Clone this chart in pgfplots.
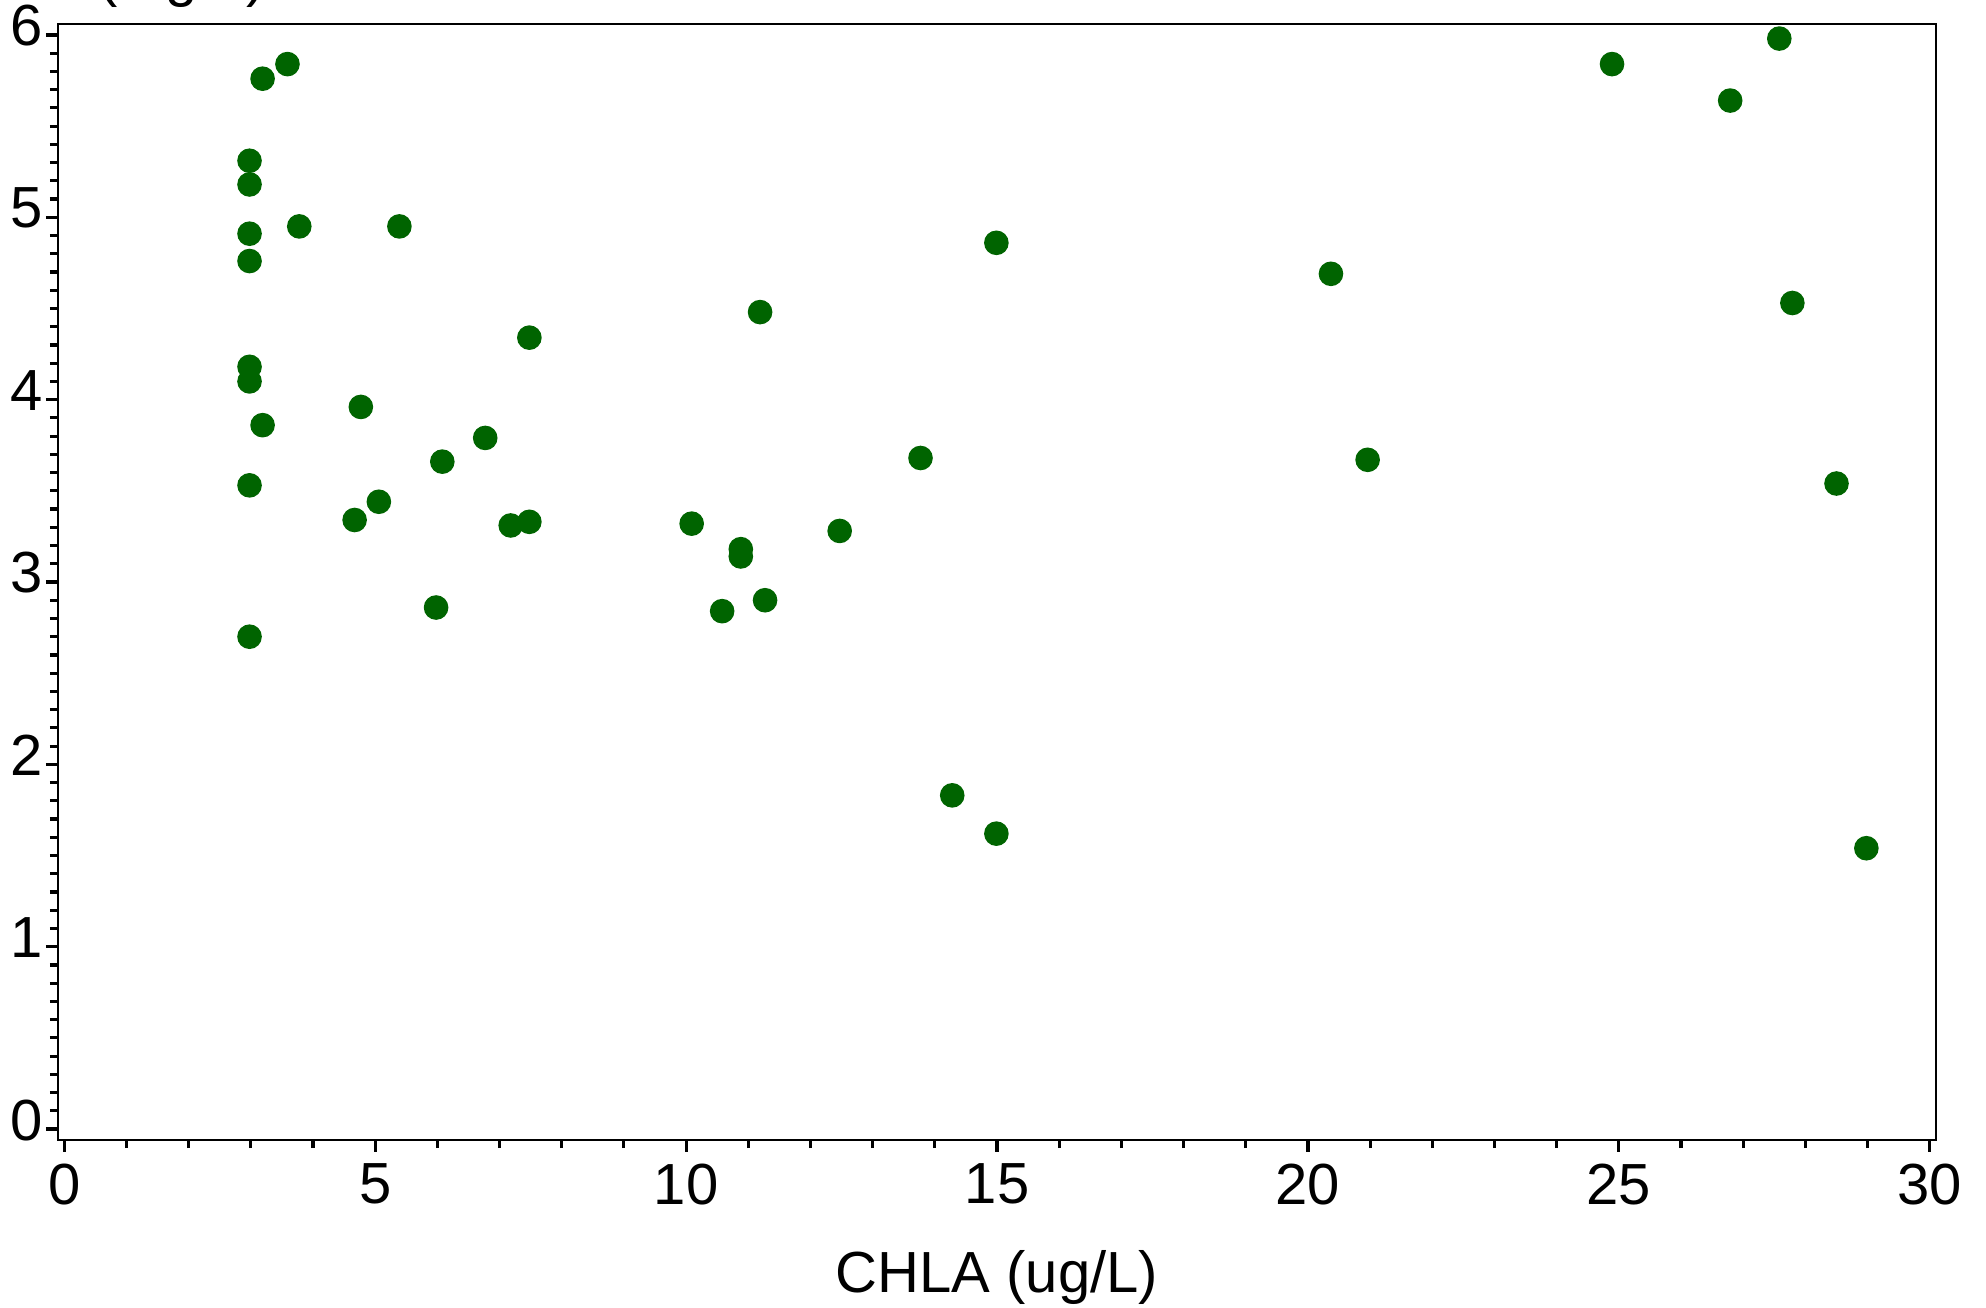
\documentclass[border=0pt]{standalone}
\usepackage{fontspec}
\setmainfont{Liberation Sans}
\usepackage{pgfplots}
\pgfplotsset{compat=1.18}
\definecolor{dkgreen}{RGB}{0,100,0}
\newcommand{\lbl}{\fontsize{16.5}{20}\selectfont}
\begin{document}
\begin{tikzpicture}
\begin{axis}[
  scale only axis, width=18.78cm, height=11.16cm,
  xmin=-0.1, xmax=30.1, ymin=-0.06, ymax=6.06,
  axis line style={line width=0.8pt},
  xtick={0,5,...,30}, ytick={0,1,...,6},
  minor x tick num=4, minor y tick num=9,
  tick align=outside, tick pos=left,
  major tick length=0.12cm, minor tick length=0.08cm,
  every tick/.style={line width=0.9pt, black},
  /pgf/number format/assume math mode=true,
  xticklabel style={font=\lbl, anchor=north, inner sep=0pt, yshift=-0.11cm},
  yticklabel style={font=\lbl, anchor=east, inner sep=0pt, xshift=-0.03cm, yshift=0.09cm},
  xlabel={CHLA (ug/L)},
  xlabel style={font=\lbl, at={(rel axis cs:0.5,0)}, anchor=base, yshift=-1.52cm, inner sep=0pt},
  ylabel={(mg/L)},
  ylabel style={font=\lbl, at={(rel axis cs:0,1)}, anchor=base, rotate=-90, xshift=1.24cm, yshift=0.28cm, inner sep=0pt},
]
\coordinate (SW) at (rel axis cs:0,0);
\coordinate (NE) at (rel axis cs:1,1);
\addplot[only marks, mark=*, mark size=3.3pt, color=dkgreen, fill=dkgreen] coordinates {
(2.98,2.70) (2.98,3.53) (3.19,3.86) (2.98,4.10) (2.98,4.18) (2.98,4.76)
(2.98,4.91) (2.98,5.18) (2.98,5.31) (3.19,5.76) (3.59,5.84) (3.78,4.95)
(5.39,4.95) (4.77,3.96) (4.67,3.34) (5.06,3.44) (5.98,2.86) (6.08,3.66)
(6.77,3.79) (7.18,3.31) (7.48,3.33) (7.48,4.34) (10.09,3.32) (10.58,2.84)
(10.88,3.18) (10.88,3.14) (11.27,2.90) (11.19,4.48) (12.47,3.28) (13.77,3.68)
(14.28,1.83) (14.99,4.86) (14.99,1.62) (20.37,4.69) (20.96,3.67) (24.89,5.84)
(26.79,5.64) (27.58,5.98) (27.79,4.53) (28.50,3.54) (28.98,1.54)
};
\end{axis}
\pgfresetboundingbox
\path[use as bounding box] ([xshift=-0.58cm,yshift=-1.68cm]SW) rectangle ([xshift=0.50cm,yshift=0.24cm]NE);
\end{tikzpicture}
\end{document}
